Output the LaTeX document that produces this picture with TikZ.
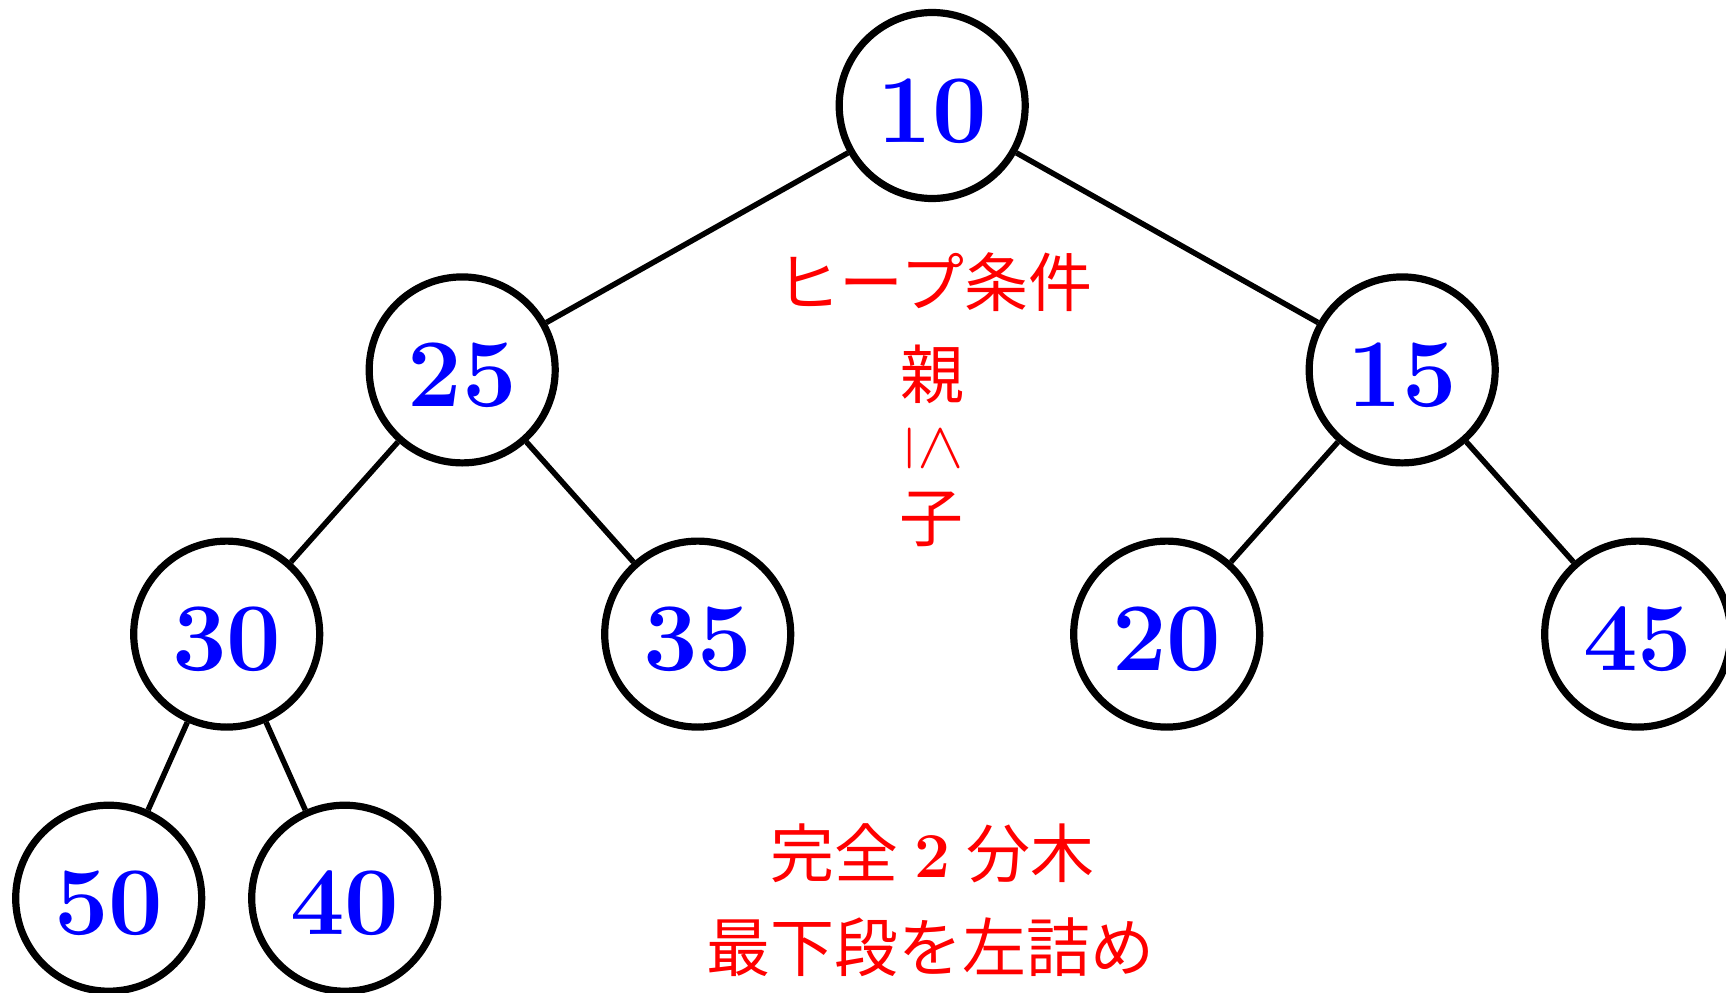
\documentclass[tikz,border=0pt]{standalone}
\usepackage{fontspec}
\newfontfamily\cjk{Noto Sans CJK JP}
\tikzset{
  hnode/.style={circle, draw=black, line width=0.72mm, minimum size=18.6mm, inner sep=0pt,
    text=blue, font=\fontsize{27.6}{30}\selectfont\bfseries, text height=7.3mm, text depth=0mm},
  treeedge/.style={line width=0.55mm, draw=black},
  note/.style={text=red, font=\fontsize{18.2}{20}\selectfont\cjk, inner sep=0pt}
}
\begin{document}
\begin{tikzpicture}
\useasboundingbox (0,0) rectangle (17.26,9.92);
% nodes
\node[hnode] (n10) at (9.322,8.865) {10};
\node[hnode] (n25) at (4.622,6.221) {25};
\node[hnode] (n15) at (14.022,6.221) {15};
\node[hnode] (n30) at (2.267,3.579) {30};
\node[hnode] (n35) at (6.977,3.579) {35};
\node[hnode] (n20) at (11.667,3.579) {20};
\node[hnode] (n45) at (16.377,3.579) {45};
\node[hnode] (n50) at (1.087,0.938) {50};
\node[hnode] (n40) at (3.447,0.938) {40};
% edges
\draw[treeedge] (n10) -- (n25);
\draw[treeedge] (n10) -- (n15);
\draw[treeedge] (n25) -- (n30);
\draw[treeedge] (n25) -- (n35);
\draw[treeedge] (n15) -- (n20);
\draw[treeedge] (n15) -- (n45);
\draw[treeedge] (n30) -- (n50);
\draw[treeedge] (n30) -- (n40);
% notes
\node[note] (heap) at (9.34,7.10) {ヒープ条件};
\node[note] (oya) at (9.322,6.178) {親};
\node[note, rotate=-90, scale=1.1] (leq) at (9.342,5.437) {$\leq$};
\node[note] (ko) at (9.315,4.725) {子};
\node[note] (kanzen) at (9.325,1.387) {完全\hspace{0.25em}{\rmfamily\bfseries 2}\hspace{0.25em}分木};
\node[note] (saika) at (9.305,0.447) {最下段を左詰め};
\end{tikzpicture}
\end{document}
